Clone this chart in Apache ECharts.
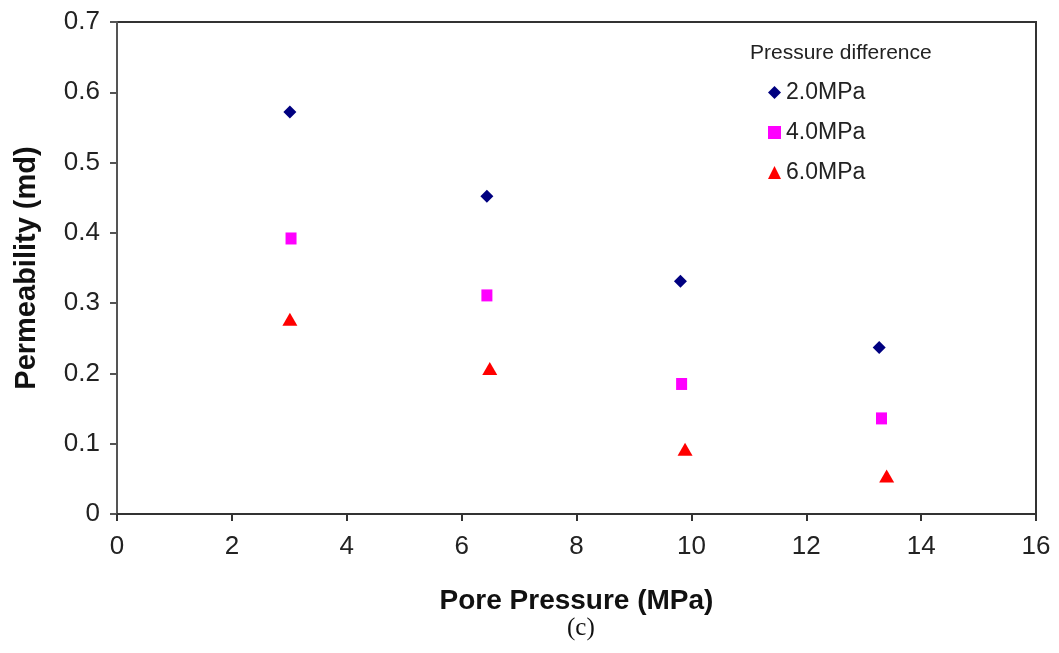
<!DOCTYPE html>
<html>
<head>
<meta charset="utf-8">
<script src="https://cdn.jsdelivr.net/npm/echarts@6/dist/echarts.min.js"></script>
<style>
  html, body { margin: 0; padding: 0; background: #fff; }
  #chart { width: 1059px; height: 653px; }
</style>
</head>
<body>
<div id="chart"></div>
<script>
// 数据
const seriesNames = ['2.0MPa', '4.0MPa', '6.0MPa']
const porePressure2 = [3.01, 6.44, 9.81, 13.27]
const permeability2 = [0.572, 0.452, 0.331, 0.237]
const porePressure4 = [3.03, 6.44, 9.83, 13.31]
const permeability4 = [0.392, 0.311, 0.185, 0.136]
const porePressure6 = [3.01, 6.49, 9.89, 13.40]
const permeability6 = [0.277, 0.207, 0.092, 0.054]

const font = 'Liberation Sans, Arial, sans-serif'
const pair = (xs, ys) => xs.map((x, i) => [x, ys[i]])

const chart = echarts.init(document.getElementById('chart'))
const option = {
  animation: false,
  backgroundColor: '#fff',
  title: [
    {
      text: '(c)',
      left: 562,
      top: 611,
      textStyle: { fontFamily: 'Liberation Serif, Times New Roman, serif', fontSize: 25, fontWeight: 'normal', color: '#111' }
    },
    {
      text: 'Pressure difference',
      left: 745,
      top: 38,
      textStyle: { fontFamily: font, fontSize: 21, fontWeight: 'normal', color: '#222' }
    }
  ],
  legend: {
    orient: 'vertical',
    left: 763,
    top: 76,
    itemWidth: 13,
    itemHeight: 13,
    itemGap: 17,
    textStyle: { fontFamily: font, fontSize: 23, color: '#222', lineHeight: 22 },
    data: [
      { name: seriesNames[0], icon: 'diamond' },
      { name: seriesNames[1], icon: 'rect' },
      { name: seriesNames[2], icon: 'triangle' }
    ]
  },
  grid: {
    left: 117,
    right: 23,
    top: 22,
    bottom: 139,
    show: true,
    borderColor: '#333',
    borderWidth: 2
  },
  xAxis: {
    type: 'value',
    min: 0,
    max: 16,
    interval: 2,
    name: 'Pore Pressure (MPa)',
    nameLocation: 'middle',
    nameGap: 73,
    nameTextStyle: { fontFamily: font, fontSize: 28, fontWeight: 'bold', color: '#111' },
    axisLine: { lineStyle: { color: '#333', width: 2 } },
    axisTick: { show: true, length: 7, lineStyle: { color: '#333', width: 2 } },
    axisLabel: { margin: 20, fontFamily: font, fontSize: 26, color: '#222' },
    splitLine: { show: false }
  },
  yAxis: {
    type: 'value',
    min: 0,
    max: 0.7,
    interval: 0.1,
    name: 'Permeability (md)',
    nameLocation: 'middle',
    nameGap: 76,
    nameTextStyle: { fontFamily: font, fontSize: 29, fontWeight: 'bold', color: '#111' },
    axisLine: { show: true, lineStyle: { color: '#555', width: 2 } },
    axisTick: { show: true, length: 7, lineStyle: { color: '#555', width: 2 } },
    axisLabel: { margin: 17, fontFamily: font, fontSize: 26, color: '#222' },
    splitLine: { show: false }
  },
  series: [
    {
      name: seriesNames[0],
      type: 'scatter',
      symbol: 'diamond',
      symbolSize: 13,
      itemStyle: { color: '#000080', opacity: 1 },
      data: pair(porePressure2, permeability2)
    },
    {
      name: seriesNames[1],
      type: 'scatter',
      symbol: 'rect',
      symbolSize: [11, 12],
      itemStyle: { color: '#ff00ff', opacity: 1 },
      data: pair(porePressure4, permeability4)
    },
    {
      name: seriesNames[2],
      type: 'scatter',
      symbol: 'triangle',
      symbolSize: [15, 13],
      itemStyle: { color: '#ff0000', opacity: 1 },
      data: pair(porePressure6, permeability6)
    }
  ]
}
chart.setOption(option)
</script>
</body>
</html>
